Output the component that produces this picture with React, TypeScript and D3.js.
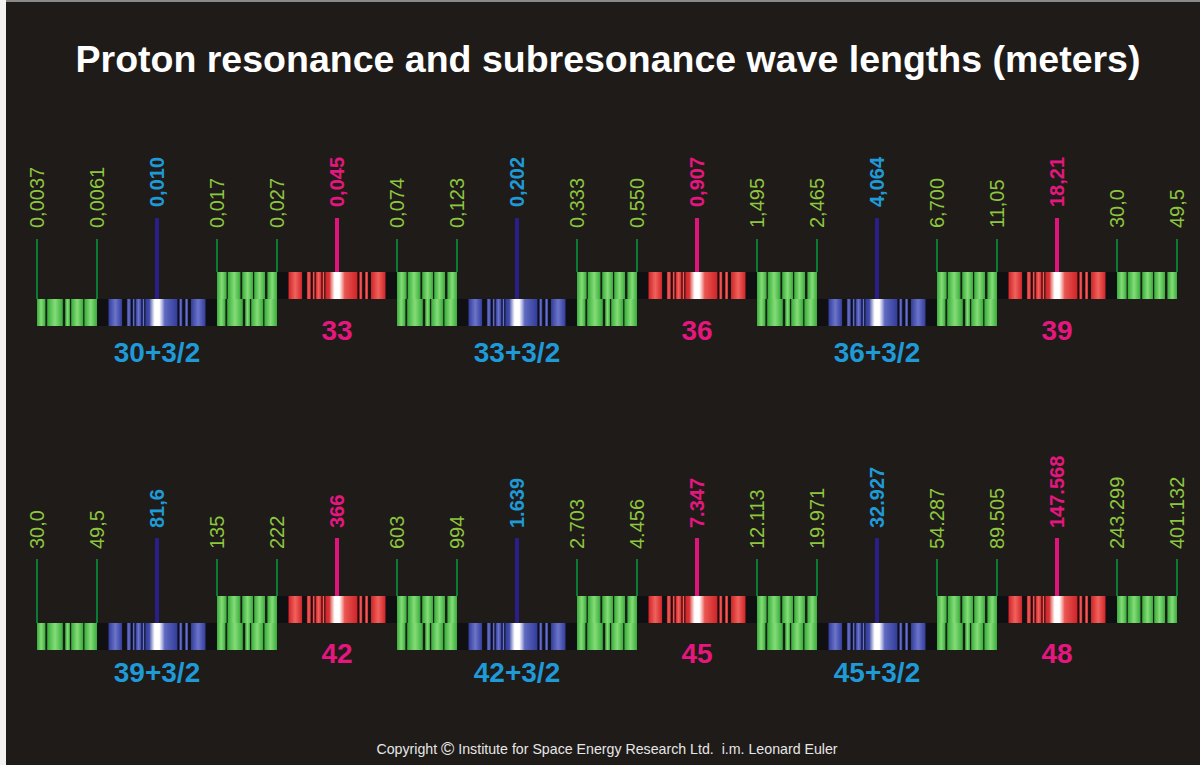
import React from "react";
import * as d3 from "d3";

// ---- data ----
const row1Greens = [
  ["0,0037", "0,0061"],
  ["0,017", "0,027"],
  ["0,074", "0,123"],
  ["0,333", "0,550"],
  ["1,495", "2,465"],
  ["6,700", "11,05"],
  ["30,0", "49,5"],
];
const row1Values = ["0,010", "0,045", "0,202", "0,907", "4,064", "18,21"];
const row1Names = ["30+3/2", "33", "33+3/2", "36", "36+3/2", "39"];

const row2Greens = [
  ["30,0", "49,5"],
  ["135", "222"],
  ["603", "994"],
  ["2.703", "4.456"],
  ["12.113", "19.971"],
  ["54.287", "89.505"],
  ["243.299", "401.132"],
];
const row2Values = ["81,6", "366", "1.639", "7.347", "32.927", "147.568"];
const row2Names = ["39+3/2", "42", "42+3/2", "45", "45+3/2", "48"];

// sub = subresonance (blue, lower strip), res = resonance (red, upper strip)
const kinds = ["sub", "res", "sub", "res", "sub", "res"];

// stripe texture of the bands, as fractions of the band width
const greenUpperStripes = [[0, 0.16], [0.18, 0.39], [0.42, 0.6], [0.62, 0.8], [0.84, 1]];
const greenLowerStripes = [[0, 0.14], [0.17, 0.43], [0.47, 0.55], [0.57, 0.77], [0.79, 1]];
const resStripes = [
  [0, 0.14], [0.19, 0.23], [0.25, 0.27], [0.28, 0.34], [0.35, 0.37],
  [0.38, 0.71], [0.73, 0.76], [0.79, 0.82], [0.85, 1],
];

const TITLE = "Proton resonance and subresonance wave lengths (meters)";
const COPYRIGHT_A = "Copyright ";
const COPYRIGHT_B = " Institute for Space Energy Research Ltd.\u00a0 i.m. Leonard Euler";

const W = 1200;
const H = 765;
const BAND_H = 27;
const FONT = "Arial, 'Liberation Sans', Helvetica, sans-serif";

const GREEN_TXT = "#8dc63f";
const BLUE_TXT = "#1f9ad8";
const RED_TXT = "#e5177f";

const rowLayout = [
  { greens: row1Greens, values: row1Values, names: row1Names, bandTop: 272, tickTop: 239, greenLabelY: 228, valueLabelY: 207, lineTop: 218, resNameY: 340, subNameY: 362 },
  { greens: row2Greens, values: row2Values, names: row2Names, bandTop: 596, tickTop: 559, greenLabelY: 549, valueLabelY: 528, lineTop: 538, resNameY: 663, subNameY: 682 },
];

// slot scale: one slot = green group + following resonance band
const x = d3.scaleLinear().domain([0, 6]).range([37, 1117]);
const greenW = x(1 / 3) - x(0);
const resW = 97;

function Stripes({ x0, w, y, stripes, fill }: { x0: number; w: number; y: number; stripes: number[][]; fill: string }) {
  return (
    <g>
      {stripes.map(([s, e], i) => (
        <rect key={i} x={x0 + s * w} y={y} width={(e - s) * w} height={BAND_H} fill={fill} />
      ))}
    </g>
  );
}

function Row({ layout }: { layout: typeof rowLayout[number] }) {
  const { greens, values, names, bandTop, tickTop, greenLabelY, valueLabelY, lineTop, resNameY, subNameY } = layout;
  const upperY = bandTop;
  const lowerY = bandTop + BAND_H;
  return (
    <g>
      {/* dark backing under resonance bands */}
      {values.map((_, j) => (
        <rect key={"bk" + j} x={x(j + 1 / 3)} y={kinds[j] === "res" ? upperY : lowerY}
          width={x(j + 1) - x(j + 1 / 3)} height={BAND_H} fill="#101012" />
      ))}
      {/* green groups */}
      {greens.map((pair, i) => {
        const left = kinds[i - 1];
        const right = kinds[i];
        const hasUpper = left === "res" || right === "res";
        const hasLower = left === "sub" || right === "sub";
        const gx = x(i);
        const tickBottom = hasUpper ? upperY : lowerY;
        return (
          <g key={"g" + i}>
            {hasUpper && <Stripes x0={gx} w={greenW} y={upperY} stripes={greenUpperStripes} fill="url(#gGreen)" />}
            {hasLower && <Stripes x0={gx} w={greenW} y={lowerY} stripes={greenLowerStripes} fill="url(#gGreen)" />}
            {[gx, gx + greenW].map((tx, k) => (
              <g key={k}>
                <line x1={tx} x2={tx} y1={tickTop} y2={tickBottom} stroke="#0b7a34" strokeWidth={2} />
                <text transform={`translate(${tx},${greenLabelY}) rotate(-90)`} dy="0.36em"
                  fontSize={20} fill={GREEN_TXT} fontFamily={FONT}>{pair[k]}</text>
              </g>
            ))}
          </g>
        );
      })}
      {/* resonance / subresonance bands */}
      {values.map((v, j) => {
        const isRes = kinds[j] === "res";
        const cx = x(j + 2 / 3);
        const by = isRes ? upperY : lowerY;
        const col = isRes ? RED_TXT : BLUE_TXT;
        return (
          <g key={"r" + j}>
            <Stripes x0={cx - resW / 2} w={resW} y={by} stripes={resStripes} fill={isRes ? "url(#gRed)" : "url(#gBlue)"} />
            <rect x={cx - resW * 0.08} y={by} width={resW * 0.16} height={BAND_H} fill="url(#gGlow)" />
            <line x1={cx} x2={cx} y1={lineTop} y2={by} stroke={isRes ? "#e0157c" : "#2a1f88"} strokeWidth={4} />
            <text transform={`translate(${cx},${valueLabelY}) rotate(-90)`} dy="0.36em"
              fontSize={20} fontWeight="bold" fill={col} fontFamily={FONT}>{v}</text>
            <text x={cx} y={isRes ? resNameY : subNameY} textAnchor="middle" fontSize={28}
              fontWeight="bold" fill={col} fontFamily={FONT}>{names[j]}</text>
          </g>
        );
      })}
    </g>
  );
}

export default function App() {
  return (
    <div>
      <style>{"body{margin:0;background:#fff}"}</style>
      <svg width={W} height={H} style={{ display: "block" }}>
        <defs>
          <linearGradient id="gGreen" x1="0" x2="1" y1="0" y2="0">
            <stop offset="0" stopColor="#36ad3a" />
            <stop offset="0.5" stopColor="#86dc78" />
            <stop offset="1" stopColor="#36ad3a" />
          </linearGradient>
          <linearGradient id="gBlue" x1="0" x2="1" y1="0" y2="0">
            <stop offset="0" stopColor="#323d9c" />
            <stop offset="0.5" stopColor="#6b74c8" />
            <stop offset="1" stopColor="#323d9c" />
          </linearGradient>
          <linearGradient id="gRed" x1="0" x2="1" y1="0" y2="0">
            <stop offset="0" stopColor="#d02428" />
            <stop offset="0.5" stopColor="#f0625c" />
            <stop offset="1" stopColor="#d02428" />
          </linearGradient>
          <linearGradient id="gGlow" x1="0" x2="1" y1="0" y2="0">
            <stop offset="0" stopColor="#ffffff" stopOpacity={0} />
            <stop offset="0.35" stopColor="#ffffff" stopOpacity={1} />
            <stop offset="0.65" stopColor="#ffffff" stopOpacity={1} />
            <stop offset="1" stopColor="#ffffff" stopOpacity={0} />
          </linearGradient>
        </defs>
        <rect x={0} y={0} width={W} height={H} fill="#f2f2f2" />
        <rect x={6} y={2} width={W - 6} height={H - 2} fill="#1f1b19" />
        <rect x={6} y={0} width={W - 6} height={2} fill="#8a8a8a" />
        <text x={608} y={72} textAnchor="middle" fontSize={37.5} fontWeight="bold" fill="#ffffff" fontFamily={FONT}>
          {TITLE}
        </text>
        {rowLayout.map((r, i) => <Row key={i} layout={r} />)}
        <text x={607} y={754} textAnchor="middle" fontSize={14.2} fill="#e6e6e6" fontFamily={FONT}>
          {COPYRIGHT_A}<tspan fontSize={18} dy={1}>©</tspan><tspan dy={-1}>{COPYRIGHT_B}</tspan>
        </text>
      </svg>
    </div>
  );
}
